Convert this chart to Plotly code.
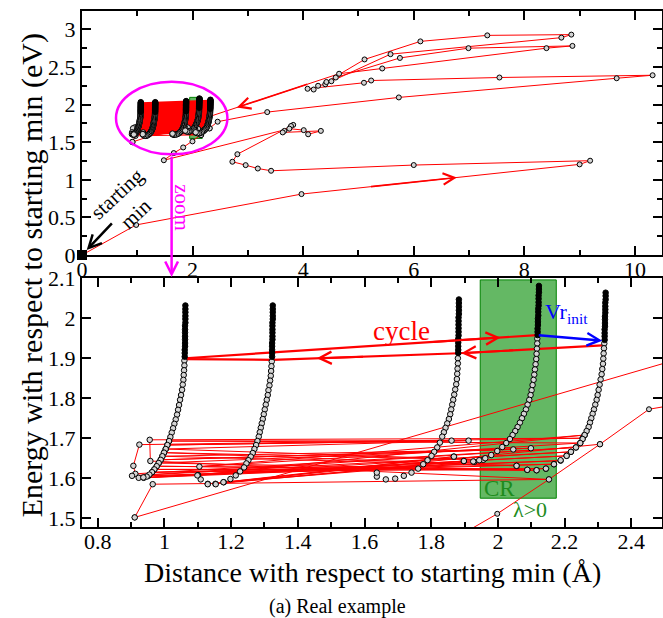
import plotly.graph_objects as go

# ---------------- data ----------------
# main trajectory (top panel)
path_x = [0.00, 0.98, 3.97, 9.00, 9.19, 6.00, 3.42, 3.18, 2.96, 2.72, 2.81, 3.82, 3.78, 3.66, 3.63, 4.32, 4.09, 4.01, 3.75,
          1.48, 1.66, 1.83, 1.998, 2.153, 2.306, 2.453, 3.35, 5.73, 9.67, 10.32, 7.55, 5.23, 5.10,
          4.08, 4.19, 4.27, 4.40, 4.42, 5.11, 6.12, 7.33, 8.85, 8.67, 5.58, 4.51, 4.59, 5.75, 6.99, 8.87, 8.40, 5.43, 4.65, 0.911]
path_y = [0.000, 0.400, 0.810, 1.205, 1.254, 1.196, 1.120, 1.150, 1.195, 1.240, 1.340, 1.730, 1.715, 1.650, 1.630, 1.650, 1.605, 1.660, 1.680,
          1.260, 1.355, 1.430, 1.511, 1.597, 1.685, 1.7725, 1.900, 2.095, 2.350, 2.390, 2.360, 2.320, 2.290,
          2.210, 2.200, 2.250, 2.270, 2.300, 2.600, 2.840, 2.920, 2.930, 2.890, 2.670, 2.310, 2.360, 2.620, 2.750, 2.780, 2.750, 2.480, 2.410, 1.502]

# tangle of steps near the bottom of the hooks
tangle_x = [0.911, 0.965, 2.153, 0.958, 0.956, 2.254, 0.925, 0.907, 0.913, 2.234, 0.903, 2.219, 0.923, 2.206, 0.938, 2.188,
            0.952, 2.168, 0.963, 2.144, 0.970, 2.116, 0.977, 2.088, 0.983, 2.099, 0.989, 2.046, 0.994, 2.056, 0.999, 1.956,
            1.004, 1.912, 1.009, 1.861, 1.014, 2.247, 1.105, 2.260, 1.101, 1.929, 1.130, 1.898, 1.153, 1.868, 1.178, 2.306]
tangle_y = [1.502, 1.585, 1.597, 1.643, 1.696, 1.700, 1.684, 1.631, 1.611, 1.677, 1.606, 1.666, 1.601, 1.656, 1.601, 1.644,
            1.606, 1.635, 1.615, 1.624, 1.622, 1.620, 1.630, 1.621, 1.638, 1.675, 1.646, 1.672, 1.655, 1.631, 1.664, 1.646,
            1.673, 1.694, 1.683, 1.694, 1.693, 1.688, 1.629, 1.708, 1.608, 1.641, 1.586, 1.643, 1.586, 1.654, 1.590, 1.685]

# the cycle
cycle_x = [1.062, 2.118, None, 2.313, 1.883, 1.325, 1.062]
cycle_y = [1.900, 1.958, None, 1.932, 1.9125, 1.896, 1.898]

# hooks: black (upper) part and open-circle (lower) part
hook1_black_x = [1.063, 1.063, 1.063, 1.063, 1.063, 1.063, 1.062, 1.062, 1.062, 1.062, 1.062, 1.062, 1.062, 1.061, 1.061, 1.061]
hook1_black_y = [2.032, 2.023, 2.015, 2.006, 1.998, 1.989, 1.981, 1.972, 1.964, 1.955, 1.947, 1.938, 1.930, 1.921, 1.913, 1.904]
hook1_x = [1.060, 1.060, 1.059, 1.058, 1.057, 1.055, 1.053, 1.050, 1.047, 1.044, 1.041, 1.038, 1.034, 1.030, 1.026,
           1.022, 1.018, 1.014, 1.009, 1.004, 0.999, 0.994, 0.989, 0.983, 0.977, 0.970, 0.963, 0.955, 0.947, 0.937]
hook1_y = [1.894, 1.882, 1.870, 1.858, 1.846, 1.834, 1.821, 1.808, 1.796, 1.783, 1.771, 1.759, 1.747, 1.736, 1.725,
           1.714, 1.703, 1.693, 1.683, 1.673, 1.664, 1.655, 1.646, 1.638, 1.630, 1.622, 1.615, 1.609, 1.604, 1.602]

hook2_black_x = [1.325, 1.325, 1.325, 1.325, 1.325, 1.324, 1.324, 1.324, 1.324, 1.324, 1.324, 1.323, 1.323, 1.323, 1.323, 1.323]
hook2_black_y = [2.032, 2.023, 2.015, 2.006, 1.998, 1.989, 1.981, 1.972, 1.964, 1.955, 1.947, 1.938, 1.930, 1.921, 1.913, 1.904]
hook2_x = [1.322, 1.321, 1.320, 1.319, 1.317, 1.315, 1.312, 1.310, 1.307, 1.304, 1.301, 1.298, 1.295, 1.292, 1.289, 1.286, 1.283,
           1.279, 1.275, 1.270, 1.265, 1.259, 1.252, 1.246, 1.239, 1.227, 1.214, 1.198, 1.177, 1.154, 1.130, 1.109, 1.099]
hook2_y = [1.892, 1.880, 1.868, 1.856, 1.844, 1.832, 1.820, 1.808, 1.796, 1.784, 1.772, 1.760, 1.748, 1.737, 1.726, 1.715, 1.704,
           1.693, 1.683, 1.673, 1.663, 1.654, 1.645, 1.637, 1.627, 1.617, 1.607, 1.598, 1.590, 1.585, 1.585, 1.597, 1.607]

hook3_black_x = [1.883, 1.883, 1.883, 1.883, 1.883, 1.882, 1.882, 1.882, 1.882, 1.882, 1.882, 1.881, 1.881, 1.881, 1.881, 1.881]
hook3_black_y = [2.047, 2.038, 2.029, 2.020, 2.011, 2.002, 1.993, 1.984, 1.975, 1.966, 1.957, 1.948, 1.939, 1.930, 1.921, 1.913]
hook3_x = [1.880, 1.880, 1.879, 1.878, 1.877, 1.875, 1.872, 1.869, 1.866, 1.863, 1.860, 1.857, 1.853, 1.848, 1.843,
           1.838, 1.833, 1.826, 1.818, 1.809, 1.801, 1.789, 1.776, 1.761, 1.741, 1.718, 1.692, 1.664, 1.637, 1.637]
hook3_y = [1.900, 1.887, 1.874, 1.861, 1.848, 1.835, 1.822, 1.809, 1.796, 1.784, 1.772, 1.760, 1.748, 1.737, 1.726,
           1.715, 1.704, 1.689, 1.677, 1.666, 1.656, 1.645, 1.635, 1.624, 1.614, 1.606, 1.599, 1.597, 1.604, 1.614]

hook4_black_x = [2.123, 2.123, 2.123, 2.122, 2.122, 2.122, 2.122, 2.121, 2.121, 2.121, 2.120, 2.120, 2.120, 2.119, 2.119, 2.119]
hook4_black_y = [2.081, 2.073, 2.065, 2.057, 2.049, 2.040, 2.032, 2.024, 2.016, 2.007, 1.999, 1.991, 1.983, 1.974, 1.966, 1.958]
hook4_x = [2.118, 2.118, 2.117, 2.116, 2.115, 2.113, 2.111, 2.109, 2.107, 2.104, 2.101, 2.098, 2.094, 2.089, 2.084, 2.078,
           2.072, 2.066, 2.059, 2.052, 2.044, 2.036, 2.025, 2.013, 1.998, 1.980, 1.962, 1.944, 1.926, 1.898, 1.868]
hook4_y = [1.949, 1.937, 1.924, 1.911, 1.898, 1.885, 1.872, 1.859, 1.846, 1.833, 1.820, 1.808, 1.796, 1.784, 1.772, 1.761,
           1.750, 1.739, 1.728, 1.718, 1.708, 1.698, 1.688, 1.678, 1.668, 1.658, 1.650, 1.645, 1.642, 1.643, 1.654]

hook5_black_x = [2.323, 2.323, 2.323, 2.322, 2.322, 2.322, 2.322, 2.321, 2.321, 2.321, 2.321, 2.320, 2.320, 2.320, 2.320]
hook5_black_y = [2.064, 2.056, 2.047, 2.039, 2.030, 2.022, 2.014, 2.005, 1.997, 1.988, 1.980, 1.972, 1.963, 1.955, 1.946]
hook5_x = [2.319, 2.318, 2.317, 2.316, 2.315, 2.313, 2.311, 2.308, 2.305, 2.302, 2.299, 2.296, 2.292, 2.288, 2.284, 2.280,
           2.276, 2.272, 2.266, 2.260, 2.254, 2.247, 2.234, 2.219, 2.206, 2.188, 2.168, 2.144, 2.116, 2.088, 2.056]
hook5_y = [1.937, 1.925, 1.912, 1.899, 1.886, 1.873, 1.860, 1.847, 1.834, 1.821, 1.808, 1.796, 1.784, 1.772, 1.761, 1.750,
           1.739, 1.728, 1.718, 1.708, 1.698, 1.688, 1.677, 1.666, 1.656, 1.645, 1.635, 1.624, 1.620, 1.621, 1.631]

start_x = [0.0]
start_y = [0.0]

top_xticks = [0, 2, 4, 6, 8, 10]
top_yticks = [0, 0.5, 1, 1.5, 2, 2.5, 3]
bot_xticks = [0.8, 1, 1.2, 1.4, 1.6, 1.8, 2, 2.2, 2.4]
bot_yticks = [1.5, 1.6, 1.7, 1.8, 1.9, 2, 2.1]

# ---------------- figure ----------------
RED = "#ff0000"
SERIF = "Liberation Serif"
fig = go.Figure()

black_x = hook1_black_x + [None] + hook2_black_x + [None] + hook3_black_x + [None] + hook4_black_x + [None] + hook5_black_x
black_y = hook1_black_y + [None] + hook2_black_y + [None] + hook3_black_y + [None] + hook4_black_y + [None] + hook5_black_y
open_x = hook1_x + hook2_x + hook3_x + hook4_x + hook5_x
open_y = hook1_y + hook2_y + hook3_y + hook4_y + hook5_y

marker_open = dict(symbol="circle", size=5.5, color="#d4d4d4", line=dict(color="black", width=1))


def add_layers(xa, ya, top):
    if top:
        poly_x = hook1_black_x + hook1_x + hook5_x[::-1] + hook5_black_x[::-1]
        poly_y = hook1_black_y + hook1_y + hook5_y[::-1] + hook5_black_y[::-1]
        fig.add_trace(go.Scatter(x=poly_x, y=poly_y, mode="lines", fill="toself", fillcolor=RED,
                                 line=dict(width=0, color=RED), xaxis=xa, yaxis=ya, hoverinfo="skip"))
    fig.add_trace(go.Scatter(x=path_x, y=path_y, mode="lines+markers", line=dict(color=RED, width=1),
                             marker=dict(symbol="circle", size=5, color="#d4d4d4", line=dict(color="black", width=1)),
                             xaxis=xa, yaxis=ya))
    fig.add_trace(go.Scatter(x=tangle_x, y=tangle_y, mode="lines+markers", line=dict(color=RED, width=1),
                             marker=marker_open, xaxis=xa, yaxis=ya))
    fig.add_trace(go.Scatter(x=cycle_x, y=cycle_y, mode="lines", line=dict(color=RED, width=2.2),
                             xaxis=xa, yaxis=ya, connectgaps=False))
    fig.add_trace(go.Scatter(x=open_x, y=open_y, mode="markers", marker=marker_open, xaxis=xa, yaxis=ya))
    fig.add_trace(go.Scatter(x=black_x, y=black_y, mode="markers",
                             marker=dict(symbol="circle", size=5.5, color="black", line=dict(color="black", width=1)),
                             xaxis=xa, yaxis=ya))


add_layers("x", "y", True)
add_layers("x2", "y2", False)
fig.add_trace(go.Scatter(x=start_x, y=start_y, mode="markers", cliponaxis=False,
                         marker=dict(symbol="square", size=10, color="black"), xaxis="x", yaxis="y"))

axis_common = dict(showline=True, linewidth=2, linecolor="black", mirror="ticks", ticks="inside",
                   tickwidth=2, ticklen=9, tickcolor="black", showgrid=False, zeroline=False,
                   tickfont=dict(family=SERIF, size=22, color="black"))

fig.update_layout(
    width=663, height=618,
    margin=dict(l=82, r=1, t=11, b=91, autoexpand=False),
    paper_bgcolor="white", plot_bgcolor="white",
    showlegend=False,
    font=dict(family=SERIF),
    xaxis=dict(domain=[0, 1], anchor="y", range=[0, 10.49], tickvals=top_xticks, ticklabelstandoff=-6,
               minor=dict(dtick=1, tick0=0, ticks="inside", ticklen=5, tickwidth=1.5, tickcolor="black"),
               **axis_common),
    yaxis=dict(domain=[0.5271, 1], anchor="x", range=[0, 3.244], tickvals=top_yticks,
               minor=dict(dtick=0.25, tick0=0, ticks="inside", ticklen=5, tickwidth=1.5, tickcolor="black"),
               **axis_common),
    xaxis2=dict(domain=[0, 1], anchor="y2", range=[0.753, 2.492], tickvals=bot_xticks, ticklabelstandoff=-6,
                minor=dict(dtick=0.1, tick0=0.8, ticks="inside", ticklen=5, tickwidth=1.5, tickcolor="black"),
                **axis_common),
    yaxis2=dict(domain=[0, 0.482], anchor="x2", range=[1.478, 2.1], tickvals=bot_yticks, **axis_common),
)

# CR region
for xr, yr in (("x", "y"), ("x2", "y2")):
    fig.add_shape(type="rect", xref=xr, yref=yr, x0=1.947, x1=2.175, y0=1.55, y1=2.096,
                  fillcolor="rgb(100,184,100)", line=dict(color="rgb(0,130,0)", width=1), layer="below")

# zoom ellipse
fig.add_shape(type="circle", xref="x", yref="y", x0=0.615, x1=2.63, y0=1.338, y1=2.304,
              line=dict(color="#ff00ff", width=2.5), layer="above")

ann = []
# arrowheads on the trajectory (top)
ann.append(dict(xref="x", yref="y", axref="x", ayref="y", x=6.78, y=1.031, ax=5.2, ay=0.907,
                text="", showarrow=True, arrowhead=5, arrowsize=1.4, arrowwidth=1.6, arrowcolor=RED))
ann.append(dict(xref="x", yref="y", axref="x", ayref="y", x=2.8, y=1.961, ax=4.1, ay=2.276,
                text="", showarrow=True, arrowhead=5, arrowsize=1.4, arrowwidth=1.6, arrowcolor=RED))
# starting min
ann.append(dict(xref="x", yref="y", axref="x", ayref="y", x=0.085, y=0.066, ax=0.566, ay=0.442,
                text="", showarrow=True, arrowhead=5, arrowsize=1, arrowwidth=2.5, arrowcolor="black"))
ann.append(dict(xref="x", yref="y", x=0.81, y=0.68, text="starting<br>min", showarrow=False, textangle=-43,
                xanchor="center", yanchor="middle", font=dict(family=SERIF, size=21, color="black")))
# zoom arrow
ann.append(dict(xref="paper", yref="paper", x=0.1545, y=0.4845, ax=0, ay=-122, text="", showarrow=True,
                arrowhead=5, arrowsize=1, arrowwidth=2.5, arrowcolor="#ff00ff"))
ann.append(dict(xref="paper", yref="paper", x=0.173, y=0.619, text="zoom", showarrow=False, textangle=90,
                xanchor="center", yanchor="middle", font=dict(family=SERIF, size=21, color="#ff00ff")))
# cycle arrows (bottom)
ann.append(dict(xref="x2", yref="y2", axref="x2", ayref="y2", x=2.008, y=1.9519, ax=1.80, ay=1.9405,
                text="", showarrow=True, arrowhead=5, arrowsize=1.2, arrowwidth=2, arrowcolor=RED))
ann.append(dict(xref="x2", yref="y2", axref="x2", ayref="y2", x=1.89, y=1.9128, ax=2.05, ay=1.9200,
                text="", showarrow=True, arrowhead=5, arrowsize=1.2, arrowwidth=2, arrowcolor=RED))
ann.append(dict(xref="x2", yref="y2", axref="x2", ayref="y2", x=1.457, y=1.8999, ax=1.60, ay=1.9041,
                text="", showarrow=True, arrowhead=5, arrowsize=1.2, arrowwidth=2, arrowcolor=RED))
ann.append(dict(xref="x2", yref="y2", axref="x2", ayref="y2", x=2.313, y=1.944, ax=2.118, ay=1.958,
                text="", showarrow=True, arrowhead=5, arrowsize=1, arrowwidth=2.5, arrowcolor="blue"))
ann.append(dict(xref="x2", yref="y2", x=1.71, y=1.967, text="cycle", showarrow=False,
                xanchor="center", yanchor="middle", font=dict(family=SERIF, size=27, color=RED)))
ann.append(dict(xref="x2", yref="y2", x=2.207, y=2.013, text="Vr<sub>init</sub>", showarrow=False,
                xanchor="center", yanchor="middle", font=dict(family=SERIF, size=22, color="blue")))
ann.append(dict(xref="x2", yref="y2", x=2.004, y=1.574, text="CR", showarrow=False,
                xanchor="center", yanchor="middle", font=dict(family=SERIF, size=23, color="rgb(30,140,30)")))
ann.append(dict(xref="x2", yref="y2", x=2.097, y=1.521, text="λ>0", showarrow=False,
                xanchor="center", yanchor="middle", font=dict(family=SERIF, size=22, color="rgb(30,140,30)")))
# titles
ann.append(dict(xref="paper", yref="paper", x=-0.086, y=0.488, text="Energy with respect to starting min (eV)",
                showarrow=False, textangle=-90, xanchor="center", yanchor="middle",
                font=dict(family=SERIF, size=30, color="black")))
ann.append(dict(xref="paper", yref="paper", x=0.5, y=-0.0885, text="Distance with respect to starting min (Å)",
                showarrow=False, xanchor="center", yanchor="middle",
                font=dict(family=SERIF, size=28, color="black")))
ann.append(dict(xref="paper", yref="paper", x=0.44, y=-0.155, text="(a) Real example",
                showarrow=False, xanchor="center", yanchor="middle",
                font=dict(family=SERIF, size=20, color="black")))
fig.update_layout(annotations=ann)

fig.write_html("out.html", config={"displayModeBar": False},
               post_script="document.body.style.margin='0px';")
